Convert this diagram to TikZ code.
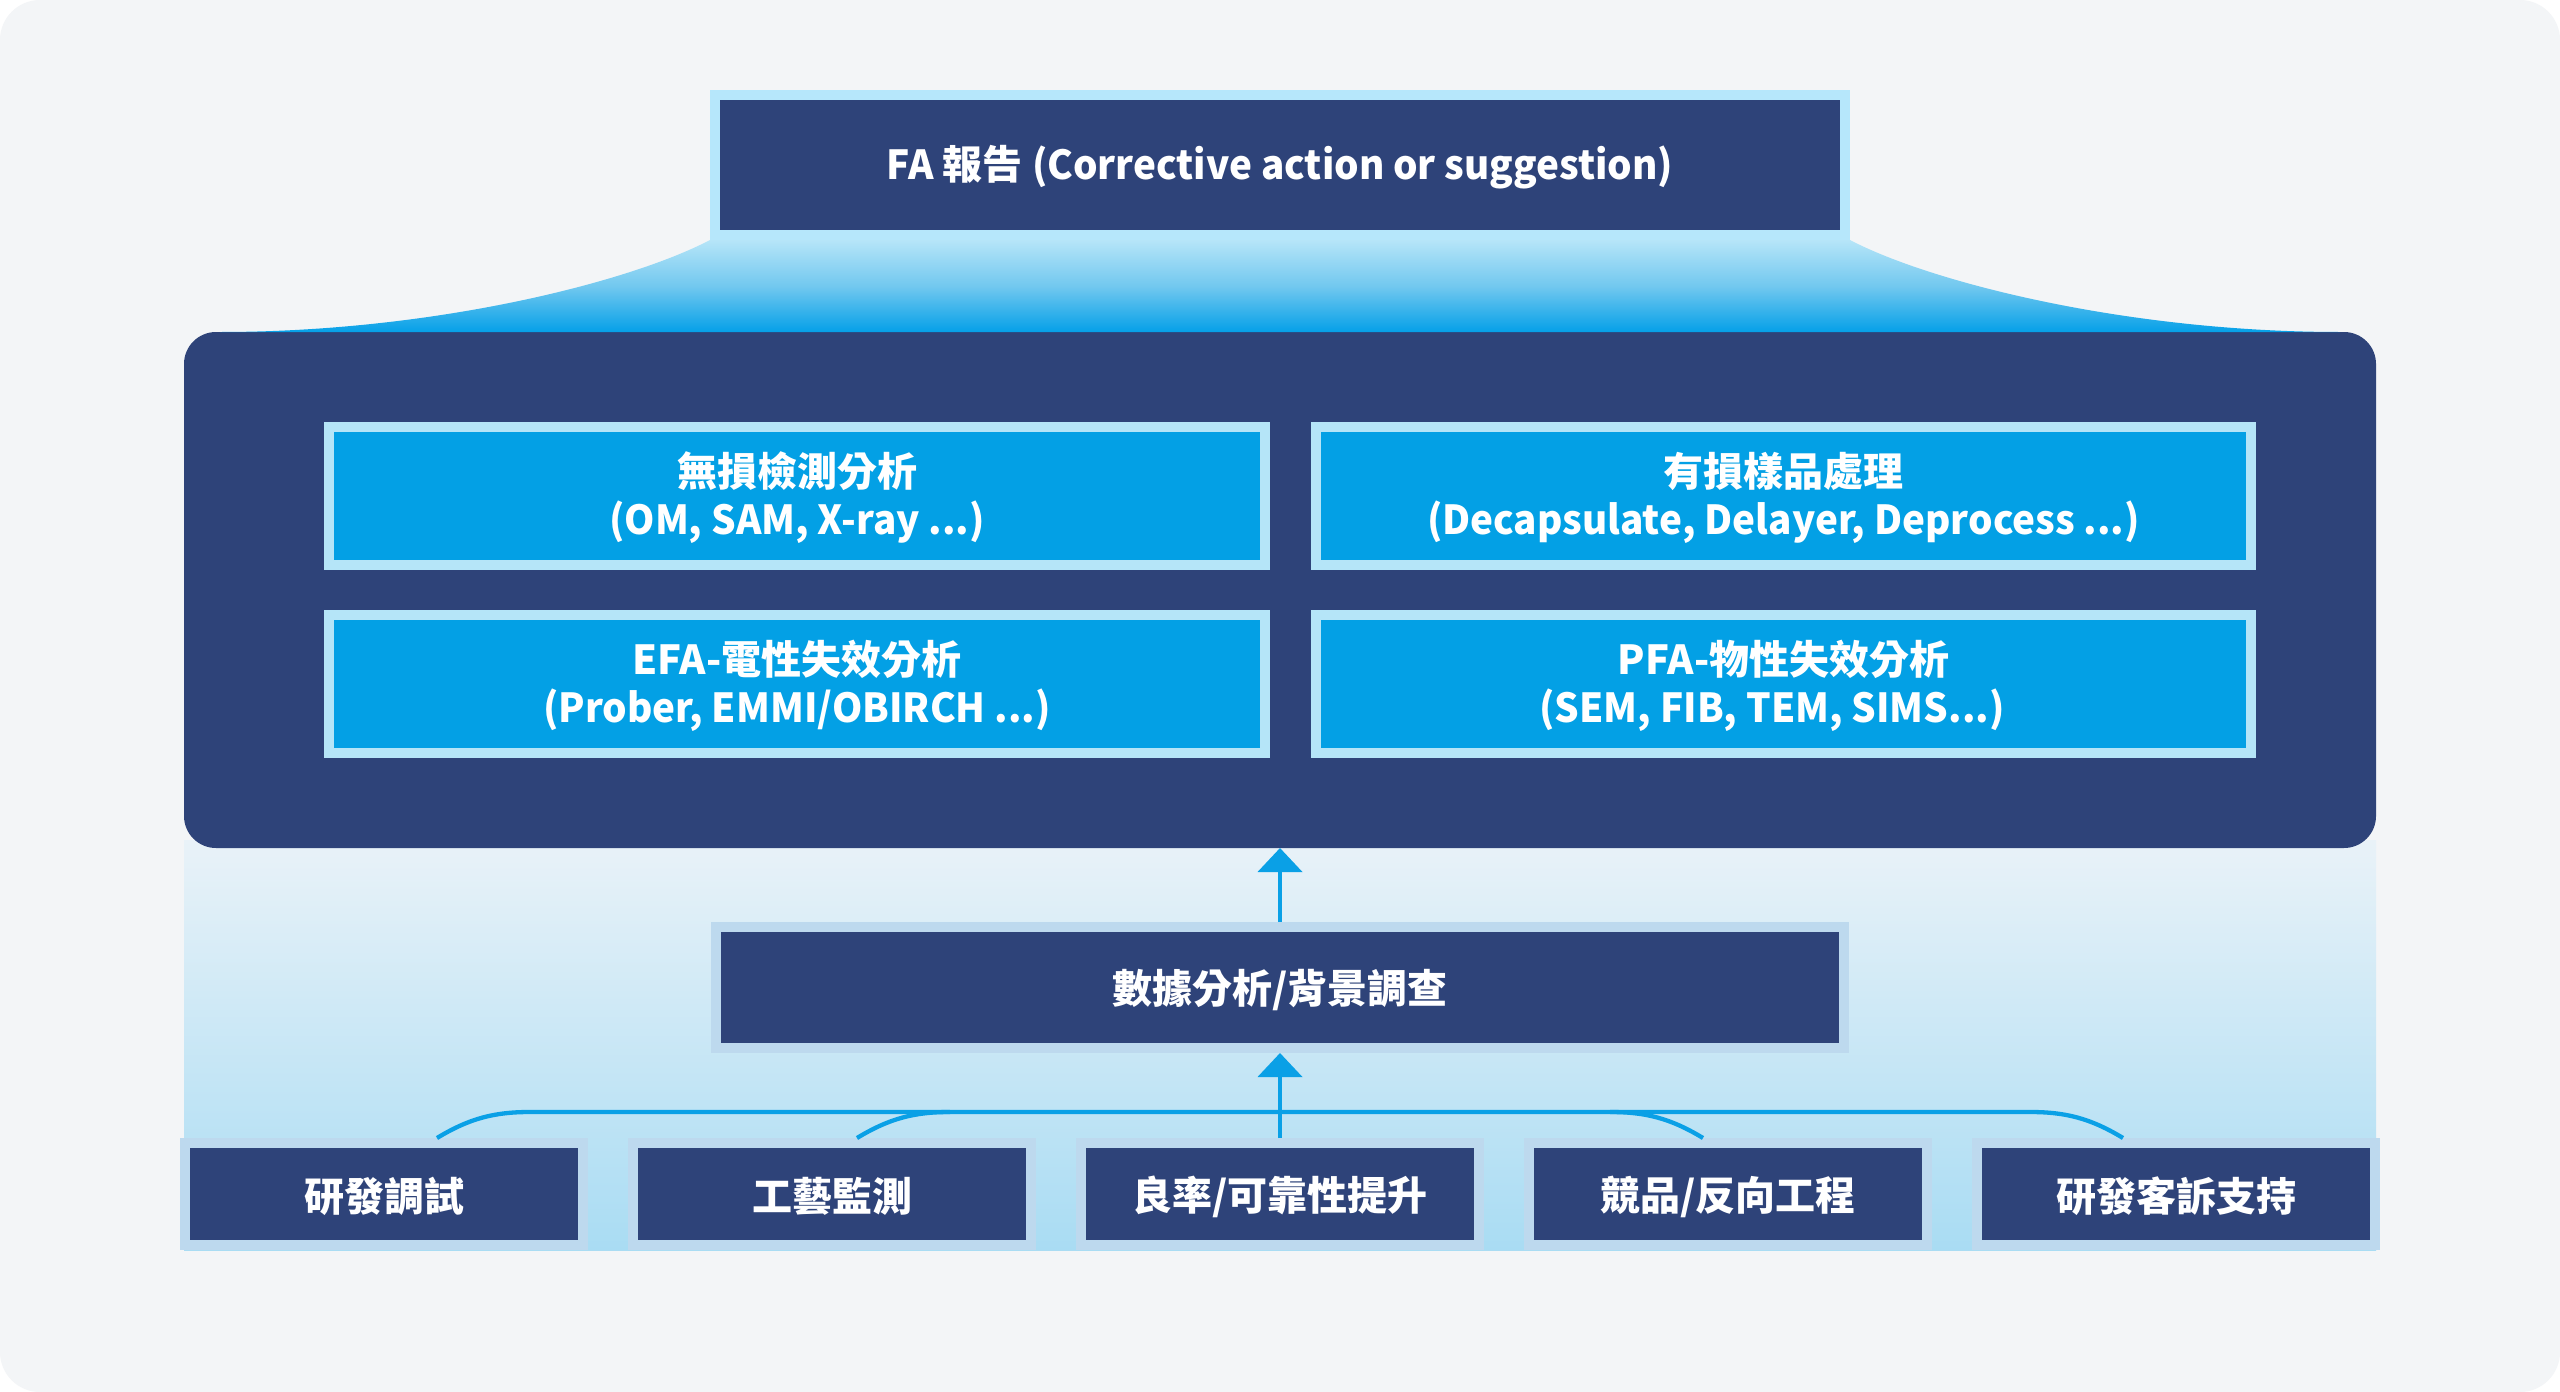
\documentclass[tikz,border=0pt]{standalone}
\usepackage{fontspec}
\setmainfont{Noto Sans CJK TC}
\newfontfamily\lat{Noto Sans CJK TC}[FakeStretch=0.966]
\usetikzlibrary{arrows.meta}
\definecolor{bggray}{HTML}{F3F5F7}
\definecolor{navy}{HTML}{2E4379}
\definecolor{faborder}{HTML}{B6E7FB}
\definecolor{lightborder}{HTML}{B5E5F8}
\definecolor{brightblue}{HTML}{03A0E5}
\definecolor{grayborder}{HTML}{BDD9EE}
\definecolor{connblue}{HTML}{0AA0E6}
\definecolor{funtop}{HTML}{B6E5F8}
\definecolor{funmid}{HTML}{72C8EF}
\definecolor{funbot}{HTML}{05A0E8}
\definecolor{gradtop}{HTML}{E9F2F8}
\definecolor{gradbot}{HTML}{A9DCF3}
\begin{document}
\begin{tikzpicture}[x=1pt,y=-1pt,
  txt/.style={text=white, font=\bfseries\fontsize{40}{48}\selectfont, align=center, inner sep=0pt},
  lbl/.style={label={[txt,yshift=-2.5pt]center:{#1}}},
  lbltwo/.style={label={[txt,yshift=-2pt]center:{#1}}},
  fabox/.style={draw=faborder, line width=10pt, fill=navy, inner sep=0pt, outer sep=5pt, minimum width=1130pt, minimum height=140pt},
  databox/.style={draw=grayborder, line width=10pt, fill=navy, inner sep=0pt, outer sep=5pt, minimum width=1128pt, minimum height=121pt},
  bluebox/.style={draw=lightborder, line width=10pt, fill=brightblue, inner sep=0pt, outer sep=5pt, minimum width=936pt, minimum height=138pt},
  botbox/.style={draw=grayborder, line width=10pt, fill=navy, inner sep=0pt, outer sep=5pt, minimum width=398pt, minimum height=102pt},
  conn/.style={draw=connblue, line width=4.3pt},
  uparrow/.style={conn, -{Triangle[width=44pt,length=24pt]}}
]
\useasboundingbox (0,0) rectangle (2560,1392);
\fill[white] (0,0) rectangle (2560,1392);
\fill[bggray, rounded corners=40pt] (0,0) rectangle (2560,1392);

% light gradient region behind the lower part
\shade[top color=gradtop, bottom color=gradbot] (184,840) rectangle (2376,1250);

% main panel
\node[fill=navy, rounded corners=32pt, minimum width=2192pt, minimum height=516pt, inner sep=0pt, outer sep=0pt] (panel) at (1280,590) {};

% FA report box
\node[fabox, lbl={{\lat FA} 報告 {\lat (Corrective action or suggestion)}}] (fa) at (1280,165) {};

% funnel between FA box and panel
\shade[top color=funtop, bottom color=funbot, middle color=funmid]
  (fa.south west) .. controls ([xshift=-80pt,yshift=-42pt]fa.south west) and ([xshift=250pt,yshift=0pt]panel.north west) .. ([xshift=36pt]panel.north west)
  -- ([xshift=-36pt]panel.north east)
  .. controls ([xshift=-250pt]panel.north east) and ([xshift=80pt,yshift=-42pt]fa.south east) .. (fa.south east) -- cycle;

% four analysis boxes
\node[bluebox, lbltwo={無損檢測分析\\{\lat (OM, SAM, X-ray ...)}}] (nd) at (797,496) {};
\node[bluebox, minimum width=935pt, lbltwo={有損樣品處理\\{\lat (Decapsulate, Delayer, Deprocess ...)}}] (dp) at (1783.5,496) {};
\node[bluebox, lbltwo={EFA-電性失效分析\\{\lat (Prober, EMMI/OBIRCH ...)}}] (efa) at (797,684) {};
\node[bluebox, minimum width=935pt, lbltwo={PFA-物性失效分析\\{\lat (SEM, FIB, TEM, SIMS...)}\hspace*{23pt}}] (pfa) at (1783.5,684) {};

% data analysis box
\node[databox, lbl={數據分析/背景調查}] (dat) at (1280,987.5) {};

% bottom boxes
\node[botbox, lbl={研發調試}] (b1) at (384,1194) {};
\node[botbox, lbl={工藝監測}] (b2) at (832,1194) {};
\node[botbox, lbl={良率/可靠性提升}] (b3) at (1280,1194) {};
\node[botbox, lbl={競品/反向工程}] (b4) at (1728,1194) {};
\node[botbox, lbl={研發客訴支持}] (b5) at (2176,1194) {};

% connectors
\draw[uparrow] (dat.north) -- (panel.south);
\draw[uparrow] (b3.north) -- (dat.south);
\draw[conn] ([xshift=53pt]b1.north) .. controls ([xshift=86pt,yshift=20pt]b1.north) and ([xshift=111pt,yshift=26pt]b1.north) .. ([xshift=146pt,yshift=26pt]b1.north)
  -- ([xshift=-146pt,yshift=26pt]b5.north) .. controls ([xshift=-111pt,yshift=26pt]b5.north) and ([xshift=-86pt,yshift=20pt]b5.north) .. ([xshift=-53pt]b5.north);
\draw[conn] ([xshift=25pt]b2.north) .. controls ([xshift=58pt,yshift=20pt]b2.north) and ([xshift=83pt,yshift=26pt]b2.north) .. ([xshift=118pt,yshift=26pt]b2.north);
\draw[conn] ([xshift=-25pt]b4.north) .. controls ([xshift=-58pt,yshift=20pt]b4.north) and ([xshift=-83pt,yshift=26pt]b4.north) .. ([xshift=-118pt,yshift=26pt]b4.north);
\end{tikzpicture}
\end{document}
